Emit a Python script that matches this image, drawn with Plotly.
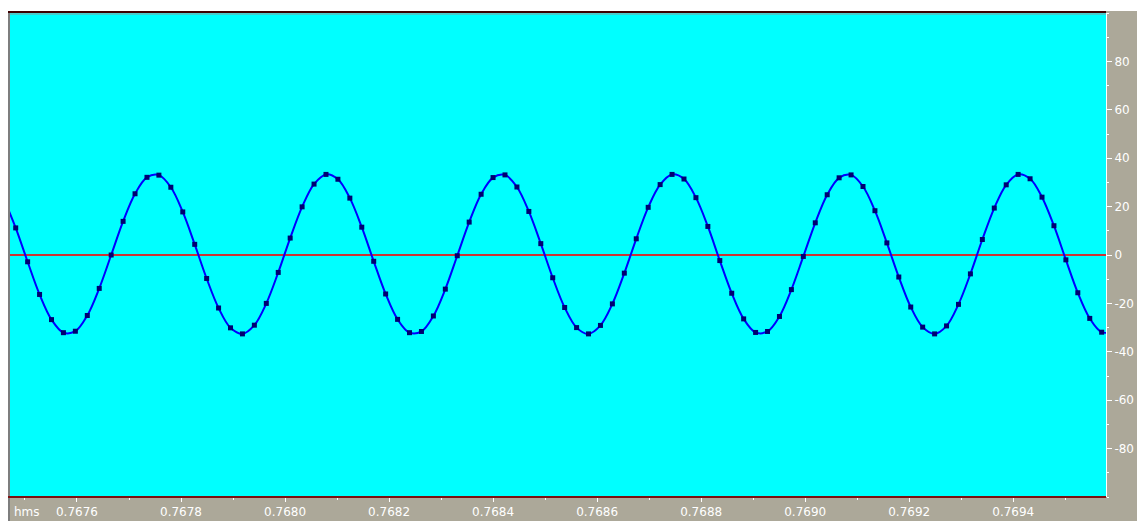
import plotly.graph_objects as go

# ---- data ----
T0 = 0.76745921          # time of the first plotted sample (s)
SAMPLE_DT = 0.0000229433  # spacing between samples (s)
samples = [
    23.3, 11.2, -2.8, -16.3, -26.7, -32.1, -31.5, -25.0, -13.8, 0.0,
    13.9, 25.3, 32.1, 33.0, 28.0, 17.8, 4.4, -9.7, -21.9, -30.1,
    -32.6, -29.0, -20.0, -7.2, 7.0, 19.9, 29.3, 33.3, 31.3, 23.5,
    11.5, -2.6, -16.1, -26.6, -32.1, -31.6, -25.2, -14.1, -0.3, 13.6,
    25.1, 32.0, 33.1, 28.1, 18.0, 4.7, -9.4, -21.7, -30.0, -32.6,
    -29.1, -20.2, -7.5, 6.7, 19.7, 29.1, 33.3, 31.4, 23.7, 11.8,
    -2.3, -15.8, -26.4, -32.0, -31.6, -25.4, -14.3, -0.6, 13.3, 24.9,
    31.9, 33.1, 28.3, 18.3, 5.0, -9.1, -21.5, -29.8, -32.6, -29.3,
    -20.4, -7.8, 6.4, 19.4, 29.0, 33.3, 31.5, 23.9, 12.1, -2.0,
    -15.6, -26.2, -31.9, -31.7,
]
x_ticks = [0.7676, 0.7678, 0.7680, 0.7682, 0.7684, 0.7686, 0.7688, 0.7690, 0.7692, 0.7694]
x_tick_labels = ["0.7676", "0.7678", "0.7680", "0.7682", "0.7684", "0.7686",
                 "0.7688", "0.7690", "0.7692", "0.7694"]
y_ticks = [-80, -60, -40, -20, 0, 20, 40, 60, 80]
y_tick_labels = ["-80", "-60", "-40", "-20", "0", "20", "40", "60", "80"]
x_range = [0.7674712, 0.7695783]
y_range = [-100, 100]
time_unit_label = "hms"

W, H = 1137, 521
ML, MR, MT, MB = 10, 31, 13, 24
PW, PH = W - ML - MR, H - MT - MB

GRAY = "#ACA899"
FONT = "DejaVu Sans"

fig = go.Figure()
fig.add_trace(go.Scatter(
    x0=T0, dx=SAMPLE_DT, y=samples,
    mode="lines+markers",
    line=dict(color="#0000FF", width=2, shape="spline", smoothing=1.0),
    marker=dict(symbol="square", size=5, color="#000070"),
    showlegend=False,
    hoverinfo="x+y",
))

def px_x(p):
    return (p - ML) / PW

def px_y(p):
    return (H - MB - p) / PH

shapes = [
    # white top strip and left strip
    dict(type="rect", xref="paper", yref="paper", x0=px_x(0), x1=px_x(W),
         y0=px_y(11), y1=px_y(0), fillcolor="white", line_width=0, layer="above"),
    dict(type="rect", xref="paper", yref="paper", x0=px_x(0), x1=px_x(8),
         y0=px_y(H), y1=px_y(0), fillcolor="white", line_width=0, layer="above"),
    # left gray edge
    dict(type="line", xref="paper", yref="paper", x0=px_x(9), x1=px_x(9),
         y0=px_y(H), y1=px_y(11), line=dict(color="#7E7E7E", width=2), layer="above"),
    # top border
    dict(type="line", xref="paper", yref="paper", x0=px_x(8), x1=px_x(ML + PW),
         y0=px_y(12), y1=px_y(12), line=dict(color="#3C0000", width=2), layer="above"),
    dict(type="line", xref="paper", yref="paper", x0=px_x(10), x1=px_x(ML + PW),
         y0=px_y(14), y1=px_y(14), line=dict(color="#8E9A9A", width=1), layer="above"),
    # bottom border
    dict(type="line", xref="paper", yref="paper", x0=px_x(8), x1=px_x(ML + PW),
         y0=0, y1=0, line=dict(color="#7A1010", width=2), layer="above"),
]

fig.update_layout(
    width=W, height=H,
    autosize=False,
    margin=dict(l=ML, r=MR, t=MT, b=MB, pad=0, autoexpand=False),
    paper_bgcolor=GRAY,
    plot_bgcolor="#00FFFF",
    font=dict(family=FONT, size=12, color="white"),
    shapes=shapes,
    annotations=[dict(
        text=time_unit_label, xref="paper", yref="paper",
        x=px_x(12), y=px_y(512), xanchor="left", yanchor="middle",
        showarrow=False, font=dict(family=FONT, size=12, color="white"),
    )],
    xaxis=dict(
        range=x_range, showgrid=False, zeroline=False, automargin=False,
        tickmode="array", tickvals=x_ticks, ticktext=x_tick_labels,
        ticks="outside", ticklen=4, tickcolor="white", tickwidth=1,
        minor=dict(dtick=0.0001, tick0=0.7676, ticks="outside", ticklen=2,
                   tickcolor="white", tickwidth=1),
        showline=False, fixedrange=True,
        tickfont=dict(family=FONT, size=12, color="white"),
    ),
    yaxis=dict(
        range=y_range, side="right", showgrid=False, automargin=False,
        zeroline=True, zerolinecolor="#CC3333", zerolinewidth=2,
        tickmode="array", tickvals=y_ticks, ticktext=y_tick_labels,
        ticks="outside", ticklen=5, tickcolor="white", tickwidth=1,
        minor=dict(dtick=10, tick0=0, ticks="outside", ticklen=2,
                   tickcolor="white", tickwidth=1),
        showline=True, linecolor="white", linewidth=1,
        fixedrange=True,
        tickfont=dict(family=FONT, size=12, color="white"),
    ),
)

fig.write_html("out.html", config={"responsive": False, "displayModeBar": False})
